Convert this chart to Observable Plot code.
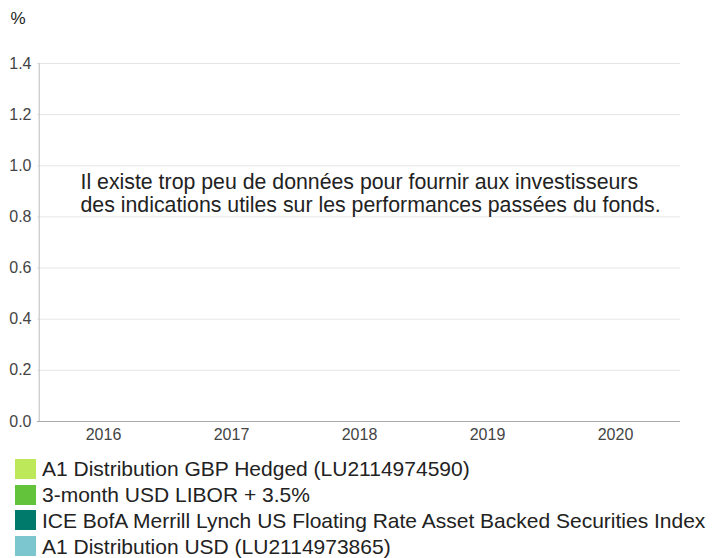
<!DOCTYPE html>
<html>
<head>
<meta charset="utf-8">
<script src="https://cdn.jsdelivr.net/npm/d3@7"></script>
<script src="https://cdn.jsdelivr.net/npm/@observablehq/plot@0.6"></script>
<style>
  html, body { margin: 0; padding: 0; background: #fff; overflow: hidden; }
  body { width: 718px; font-family: "Liberation Sans", sans-serif; color: #333; }
  #legend { margin: 6px 0 0 15px; }
  .row { display: flex; align-items: center; height: 25.8px; font-size: 21px; color: #222; white-space: nowrap; }
  .row span.lab { line-height: 1; }
  .sw { width: 21px; height: 20px; margin-right: 6px; flex: none; }
</style>
</head>
<body>
<div id="chart"></div>
<div id="legend"></div>
<script>
const years = ["2016", "2017", "2018", "2019", "2020"];
const seriesNames = [
  "A1 Distribution GBP Hedged (LU2114974590)",
  "3-month USD LIBOR + 3.5%",
  "ICE BofA Merrill Lynch US Floating Rate Asset Backed Securities Index",
  "A1 Distribution USD (LU2114973865)"
];
const seriesColors = ["#bce85a", "#63c33a", "#007a6b", "#7cc7cf"];
// No performance values are available for any year
const gbpHedged = [null, null, null, null, null];
const libor = [null, null, null, null, null];
const iceIndex = [null, null, null, null, null];
const usd = [null, null, null, null, null];
const yTicks = [0, 0.2, 0.4, 0.6, 0.8, 1.0, 1.2, 1.4];
const message = "Il existe trop peu de données pour fournir aux investisseurs\ndes indications utiles sur les performances passées du fonds.";

const allSeries = [gbpHedged, libor, iceIndex, usd];
const rows = [];
allSeries.forEach((vals, si) => vals.forEach((v, i) => {
  if (v != null) rows.push({year: years[i], series: seriesNames[si], value: v});
}));

const chart = Plot.plot({
  width: 718,
  height: 450,
  marginTop: 63,
  marginBottom: 29,
  marginLeft: 37,
  marginRight: 38,
  style: {fontFamily: "'Liberation Sans', sans-serif", fontSize: "16px", color: "#444"},
  x: {domain: years, padding: 0, label: null},
  y: {domain: [0, 1.4], ticks: yTicks, label: null, tickFormat: d3.format(".1f")},
  color: {domain: seriesNames, range: seriesColors},
  marks: [
    Plot.gridY(yTicks, {stroke: "#e6e6e6", strokeOpacity: 1}),
    Plot.barY(rows, {x: "year", y: "value", fill: "series"}),
    Plot.axisY({ticks: yTicks, tickSize: 0, tickPadding: 6, tickFormat: d3.format(".1f"), fill: "#444", fontSize: 16}),
    Plot.axisX({tickSize: 0, tickPadding: 7, fill: "#444", fontSize: 16}),
    Plot.ruleY([0], {stroke: "#aaa"}),
    Plot.ruleX([years[0]], {stroke: "#bbb", dx: -64.3}),
    Plot.text(["%"], {frameAnchor: "top-left", dx: -27, dy: -52, fontSize: 17, fill: "#222", textAnchor: "start"}),
    Plot.text([message], {frameAnchor: "top-left", dx: 43, dy: 110, fontSize: 21.3, fill: "#222", textAnchor: "start", lineHeight: 1.05})
  ]
});
document.getElementById("chart").appendChild(chart);

const legend = document.getElementById("legend");
seriesNames.forEach((name, i) => {
  const row = document.createElement("div");
  row.className = "row";
  const sw = document.createElement("span");
  sw.className = "sw";
  sw.style.background = seriesColors[i];
  const label = document.createElement("span");
  label.className = "lab";
  label.textContent = name;
  row.appendChild(sw);
  row.appendChild(label);
  legend.appendChild(row);
});
</script>
</body>
</html>
